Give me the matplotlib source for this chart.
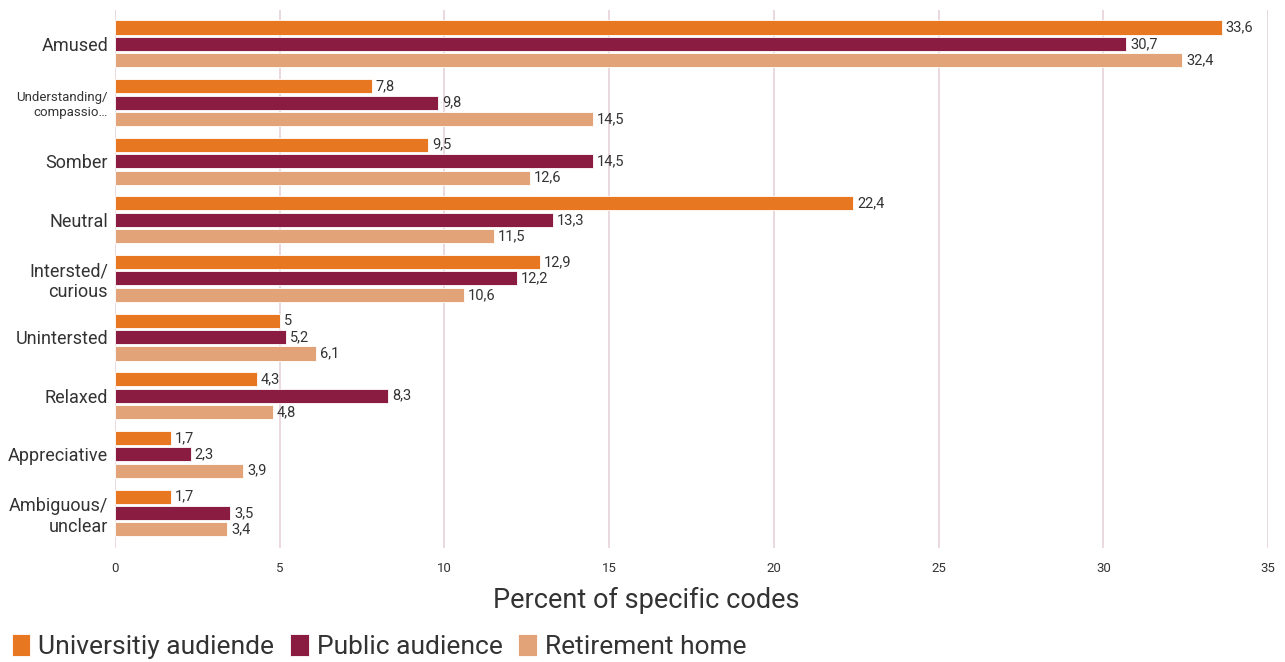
import matplotlib
matplotlib.use('Agg')
import matplotlib.pyplot as plt
import numpy as np

plt.rcParams['font.family'] = ['Roboto', 'DejaVu Sans']

## data
categories = ['Amused', 'Understanding/\ncompassio\u2026', 'Somber', 'Neutral', 'Intersted/\ncurious',
              'Unintersted', 'Relaxed', 'Appreciative', 'Ambiguous/\nunclear']
university = [33.6, 7.8, 9.5, 22.4, 12.9, 5, 4.3, 1.7, 1.7]
public = [30.7, 9.8, 14.5, 13.3, 12.2, 5.2, 8.3, 2.3, 3.5]
retirement = [32.4, 14.5, 12.6, 11.5, 10.6, 6.1, 4.8, 3.9, 3.4]
series_names = ['Universitiy audiende', 'Public audience', 'Retirement home']
colors = ['#E87722', '#8A1C41', '#E2A379']

txt = '#333333'

fig = plt.figure(figsize=(12.85, 6.62), dpi=100)
ax = fig.add_axes([0.0895, 0.172, 0.8973, 0.813])

y = np.arange(len(categories))
step = 0.28
h = 0.24
for i, (vals, c, name) in enumerate(zip([university, public, retirement], colors, series_names)):
    pos = y + (i - 1) * step
    ax.barh(pos, vals, height=h, color=c, label=name, zorder=2, edgecolor='white', linewidth=0.6)
    for p, v in zip(pos, vals):
        lab = ('%g' % v).replace('.', ',')
        ax.text(v + 0.12, p, lab, va='center', ha='left', fontsize=10.5, color=txt)

ax.set_xlim(0, 35)
ax.set_ylim(len(categories) - 0.4, -0.58)
ax.set_xticks(range(0, 36, 5))
ax.set_yticks(y)
ax.set_yticklabels(categories)
for lab, cat in zip(ax.get_yticklabels(), categories):
    lab.set_fontsize(9.5 if cat.startswith('Understanding') else 13)
    lab.set_color(txt)
    lab.set_multialignment('right')
ax.tick_params(axis='y', length=0, pad=5)
ax.tick_params(axis='x', length=0, labelsize=9.5, labelcolor=txt, pad=10)
ax.grid(axis='x', color='#E6D3DA', linewidth=1.2, zorder=0)
for s in ax.spines.values():
    s.set_visible(False)

fig.text(0.503, 0.073, 'Percent of specific codes', fontsize=19.5, color=txt, ha='center', va='bottom')

leg = fig.legend(loc='lower left', bbox_to_anchor=(-0.003, -0.02), ncol=3, frameon=False,
                 fontsize=19, handlelength=0.7, handleheight=0.9, handletextpad=0.3,
                 columnspacing=0.6, borderaxespad=0.2)
for t in leg.get_texts():
    t.set_color(txt)

plt.savefig('out.png', dpi=100)
